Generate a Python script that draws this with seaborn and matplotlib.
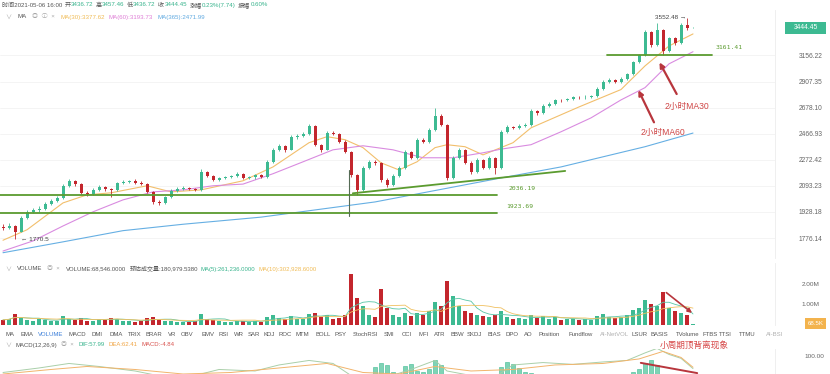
import numpy as np
import pandas as pd
import matplotlib
matplotlib.use("Agg")
import matplotlib.pyplot as plt
import matplotlib.transforms as mtransforms
from matplotlib.patches import Rectangle
import seaborn as sns

# ---------------- data ----------------
first_open = 1840
close = [1835, 1846, 1812, 1893, 1929, 1941, 1947, 1978, 1997, 2016,
         2094, 2127, 2107, 2048, 2042, 2067, 2087, 2074, 2067, 2113,
         2120, 2125, 2113, 2107, 2054, 1990, 1984, 2022, 2061, 2074,
         2080, 2074, 2067, 2188, 2160, 2133, 2146, 2153, 2158, 2174,
         2146, 2150, 2167, 2153, 2258, 2345, 2375, 2345, 2444, 2451,
         2466, 2529, 2383, 2345, 2474, 2466, 2406, 2330, 2167, 2067,
         2215, 2258, 2251, 2133, 2100, 2160, 2215, 2330, 2287, 2421,
         2406, 2497, 2610, 2537, 2146, 2287, 2345, 2251, 2188, 2272,
         2215, 2287, 2215, 2482, 2521, 2513, 2529, 2537, 2651, 2634,
         2693, 2710, 2744, 2740, 2752, 2770, 2765, 2770, 2778, 2843,
         2906, 2924, 2906, 2932, 2978, 3092, 3161, 3400, 3260, 3420,
         3200, 3330, 3280, 3470, 3436.72, 3444.45]
high = [1858, 1860, 1852, 1902, 1940, 1955, 1962, 1990, 2010, 2030,
        2105, 2140, 2135, 2115, 2060, 2078, 2098, 2095, 2082, 2122,
        2132, 2135, 2138, 2125, 2112, 2060, 2000, 2030, 2070, 2085,
        2090, 2088, 2082, 2205, 2195, 2168, 2155, 2162, 2168, 2190,
        2180, 2160, 2175, 2172, 2268, 2360, 2392, 2382, 2455, 2465,
        2480, 2545, 2535, 2392, 2485, 2490, 2472, 2415, 2338, 2175,
        2228, 2270, 2268, 2258, 2145, 2170, 2228, 2342, 2338, 2432,
        2435, 2510, 2676, 2625, 2545, 2298, 2360, 2352, 2262, 2285,
        2280, 2298, 2292, 2495, 2535, 2530, 2540, 2550, 2665, 2662,
        2705, 2722, 2755, 2756, 2764, 2782, 2780, 2784, 2790, 2855,
        2920, 2940, 2932, 2945, 2990, 3105, 3175, 3420, 3410, 3500,
        3430, 3345, 3340, 3495, 3552.48, 3457.46]
low = [1822, 1828, 1770.5, 1808, 1885, 1920, 1930, 1940, 1968, 1990,
       2010, 2085, 2095, 2040, 2030, 2035, 2060, 2062, 2022, 2060,
       2105, 2110, 2105, 2098, 2045, 1980, 1970, 1978, 2015, 2055,
       2068, 2066, 2058, 2062, 2150, 2125, 2125, 2138, 2145, 2150,
       2138, 2136, 2142, 2145, 2148, 2250, 2335, 2330, 2340, 2430,
       2440, 2460, 2370, 2330, 2340, 2455, 2395, 2318, 2150, 2036.19,
       2060, 2205, 2238, 2120, 2085, 2092, 2152, 2208, 2275, 2280,
       2395, 2398, 2490, 2525, 2135, 2140, 2278, 2240, 2175, 2180,
       2205, 2208, 2170, 2208, 2470, 2500, 2505, 2520, 2530, 2620,
       2628, 2685, 2702, 2728, 2732, 2745, 2752, 2755, 2760, 2772,
       2835, 2895, 2890, 2898, 2925, 2970, 3080, 3150, 3245, 3250,
       3160, 3190, 3265, 3270, 3425, 3436.72]
volume_m = [0.25, 0.3, 0.55, 0.35, 0.25, 0.2, 0.3, 0.25, 0.2, 0.2,
            0.45, 0.3, 0.25, 0.35, 0.2, 0.2, 0.3, 0.25, 0.35, 0.3,
            0.2, 0.2, 0.15, 0.2, 0.35, 0.4, 0.25, 0.2, 0.2, 0.15,
            0.15, 0.15, 0.2, 0.55, 0.3, 0.25, 0.2, 0.15, 0.15, 0.2,
            0.2, 0.15, 0.2, 0.15, 0.4, 0.5, 0.35, 0.3, 0.45, 0.3,
            0.3, 0.55, 0.6, 0.4, 0.5, 0.3, 0.35, 0.5, 2.45, 1.3,
            0.9, 0.5, 0.4, 1.75, 0.8, 0.5, 0.4, 0.6, 0.45, 0.6,
            0.5, 0.7, 1.1, 0.9, 2.15, 1.4, 0.9, 0.7, 0.6, 0.5,
            0.45, 0.4, 0.5, 0.7, 0.4, 0.3, 0.35, 0.3, 0.5, 0.35,
            0.45, 0.3, 0.4, 0.25, 0.3, 0.3, 0.25, 0.3, 0.25, 0.45,
            0.55, 0.4, 0.35, 0.4, 0.5, 0.75, 0.8, 1.2, 1.0, 0.9,
            1.6, 0.8, 0.7, 0.6, 0.5, 0.0685]

ma30_idx = [0, 4, 10, 14, 18, 24, 28, 33, 40, 45, 51, 54, 57, 60, 63, 66, 69, 72,
            74, 77, 80, 85, 88, 96, 103, 107, 111, 115]
ma30_val = [1764, 1823, 1984, 2035, 2048, 2094, 2054, 2067, 2127, 2222, 2398, 2444,
            2421, 2361, 2251, 2201, 2258, 2361, 2383, 2368, 2308, 2398, 2513, 2684,
            2835, 3054, 3252, 3377.62]
ma60_idx = [0, 5, 10, 15, 20, 25, 30, 35, 40, 45, 50, 55, 60, 65, 70, 75, 80, 83,
            88, 93, 98, 103, 107, 111, 115]
ma60_val = [1705, 1760, 1845, 1929, 2003, 2054, 2067, 2094, 2105, 2175, 2258, 2345,
            2375, 2345, 2287, 2287, 2323, 2350, 2383, 2482, 2593, 2744, 2852, 3074,
            3193.73]
ma365_idx = [0, 10, 20, 30, 43, 62, 83, 93, 107, 115]
ma365_val = [1696, 1755, 1818, 1855, 1897, 1990, 2146, 2222, 2368, 2471.99]

dif_idx = [0, 6, 11, 16, 22, 27, 32, 36, 42, 46, 51, 55, 58, 61, 64, 68, 72, 74,
           78, 82, 85, 90, 95, 100, 104, 107, 109, 111, 113, 115]
dif_val = [45, 60, 75, 65, 50, 30, 35, 55, 50, 70, 85, 75, 35, 15, 30, 55, 85, 50,
           35, 30, 70, 78, 72, 80, 85, 110, 125, 105, 92, 57.99]
dea_idx = [0, 8, 14, 22, 30, 38, 46, 54, 60, 66, 72, 78, 85, 92, 100, 106, 110, 113, 115]
dea_val = [40, 55, 65, 55, 40, 45, 60, 75, 45, 40, 65, 50, 55, 70, 75, 90, 115, 95, 62.41]
macd_hist = [10, 12, 8, 15, 20, 22, 25, 28, 30, 28,
             35, 38, 30, 22, 15, 12, 14, 12, 10, 14,
             12, 10, 8, 6, -5, -12, -15, -10, -5, -2,
             1, -2, -4, 15, 12, 8, 6, 5, 4, 6,
             3, 2, 4, 2, 18, 30, 32, 28, 35, 34,
             33, 38, 20, 12, 22, 18, 8, -10, -40, -55,
             -30, -10, 62, 78, 70, 45, 40, 66, 72, 50,
             45, 58, 85, 70, -20, -10, 5, -5, -15, 1,
             -5, 8, -2, 62, 80, 74, 60, 48, 42, 35,
             30, 28, 26, 22, 20, 18, 16, 15, 14, 22,
             28, 30, 26, 28, 32, 45, 58, 75, 88, 70,
             30, 40, 25, 20, 10, -4.84]

price_ticks = [1776.14, 1928.18, 2093.23, 2272.42, 2466.93, 2678.10, 2907.35, 3156.22]
vol_ticks = [1.0, 2.0]
vol_tick_labels = ["1.00M", "2.00M"]
levels = [2036.19, 1923.69]
level_top = 3161.41

tabs = ["MA", "EMA", "VOLUME", "MACD", "DMI", "DMA", "TRIX", "BRAR", "VR", "OBV", "EMV",
        "RSI", "WR", "SAR", "KDJ", "ROC", "MTM", "BOLL", "PSY", "StochRSI", "SMI", "CCI",
        "MFI", "ATR", "BBW", "SKDJ", "BIAS", "DPO", "AO", "Position", "Fundflow",
        "AI-NetVOL", "LSUR", "BASIS", "TVolume", "FTBS", "TTSI", "TTMU", "AI-BSI"]
tab_x = [5, 20, 38, 68, 92, 109, 128, 146, 168, 181, 201, 218, 234, 248, 263, 278, 295,
         315, 334, 353, 384, 402, 418, 434, 450, 467, 487, 505, 524, 538, 568, 600, 631,
         650, 676, 702, 719, 739, 766]

# ---------------- style ----------------
sns.set_theme(style="white")
plt.rcParams["font.family"] = ["Liberation Sans", "Noto Sans CJK SC", "DejaVu Sans"]
plt.rcParams["axes.unicode_minus"] = False

UP = "#3dba92"
DOWN = "#c3262d"
C30 = "#f2bf6c"
C60 = "#d98be0"
C365 = "#66afe3"
GREEN = "#5b9b2f"
RED = "#b8363d"
GREY = "#666666"

W, H = 830, 374
fig = plt.figure(figsize=(W / 100, H / 100), dpi=100)
fig.patch.set_facecolor("white")

AX_R = 775  # right edge of plot area in px
XL = (-0.5, (AX_R - 3) / 6)


def axes_px(top, bottom):
    return fig.add_axes([0, 1 - bottom / H, AX_R / W, (bottom - top) / H])


ax = axes_px(10, 258)
axv = axes_px(263, 325)
axm = axes_px(349, 374)

n = len(close)
idx = np.arange(n)
opens = np.array([first_open] + close[:-1], dtype=float)
closes = np.array(close, dtype=float)
up = closes >= opens
colors = np.where(up, UP, DOWN)

df = pd.DataFrame({"i": idx, "open": opens, "close": closes, "high": high,
                   "low": low, "vol": volume_m, "up": up})

# ---------------- price panel ----------------
ax.set_yscale("log")
ax.set_ylim(1668, 3642)
ax.set_xlim(*XL)
for t in price_ticks:
    ax.axhline(t, color="#f3f3f3", lw=0.6, zorder=0)
ax.vlines(df["i"], df["low"], df["high"], colors=colors, lw=0.6, zorder=3)
body_lo = np.minimum(opens, closes)
body_h = np.maximum(np.abs(closes - opens), body_lo * 0.0015)
ax.bar(df["i"], body_h, bottom=body_lo, width=0.5, color=colors, lw=0, zorder=4)

ma_df = pd.concat([
    pd.DataFrame({"i": ma30_idx, "v": ma30_val, "ma": "MA30"}),
    pd.DataFrame({"i": ma60_idx, "v": ma60_val, "ma": "MA60"}),
    pd.DataFrame({"i": ma365_idx, "v": ma365_val, "ma": "MA365"}),
])
sns.lineplot(data=ma_df, x="i", y="v", hue="ma", palette={"MA30": C30, "MA60": C60, "MA365": C365},
             lw=0.8, ax=ax, legend=False, zorder=2, sort=True)

# support / resistance lines
for lv in levels:
    ax.plot([-0.5, 82.3], [lv, lv], color=GREEN, lw=1.3, zorder=5)
ax.plot([100.7, 118.2], [level_top, level_top], color=GREEN, lw=1.3, zorder=5)
ax.plot([58.3, 93.7], [2045, 2194], color=GREEN, lw=1.3, zorder=5)
ax.plot([57.7, 57.7], [1905, 2201], color="#556b55", lw=0.8, zorder=5)
ax.text(84.2, 2036.19 * 1.02, "2036.19", color=GREEN, fontsize=4.6, family="DejaVu Sans Mono", va="center")
ax.text(83.8, 1923.69 * 1.02, "1923.69", color=GREEN, fontsize=4.6, family="DejaVu Sans Mono", va="center")
ax.text(118.7, level_top * 1.025, "3161.41", color=GREEN, fontsize=4.6, family="DejaVu Sans Mono", va="center")

ax.text(3.0, 1770.5, "\u2190 1770.5", color="#444444", fontsize=4.6, va="center", ha="left")
ax.text(113.8, 3552.48, "3552.48 \u2192", color="#444444", fontsize=4.6, va="center", ha="right")

# red arrows and notes
arrow_kw = dict(arrowstyle="-|>", color=RED, lw=1.6, mutation_scale=7)
ax.annotate("", xy=(109.2, 3112), xytext=(112.5, 2774), arrowprops=arrow_kw, zorder=6)
ax.annotate("", xy=(105.7, 2852), xytext=(108.7, 2537), arrowprops=arrow_kw, zorder=6)
ax.text(110.3, 2692, "2小时MA30", color="#cf4646", fontsize=6.2, va="center", ha="left")
ax.text(106.2, 2474, "2小时MA60", color="#cf4646", fontsize=6.2, va="center", ha="left")

ax.yaxis.tick_right()
ax.set_yticks(price_ticks)
ax.set_yticklabels([f"{t:.2f}" for t in price_ticks])
ax.yaxis.set_minor_locator(matplotlib.ticker.NullLocator())
ax.tick_params(axis="y", length=0, pad=17, labelsize=4.8, labelcolor=GREY)
ax.set_xticks([])
ax.set_xlabel("")
ax.set_ylabel("")
for s in ["top", "left", "bottom"]:
    ax.spines[s].set_visible(False)
ax.spines["right"].set_color("#ececec")
ax.spines["right"].set_linewidth(0.6)

# ---------------- volume panel ----------------
axv.set_xlim(*XL)
axv.set_ylim(0, 3.0)
axv.bar(df["i"], df["vol"], width=0.55, color=colors, lw=0)
vol_s = pd.Series(volume_m)
axv.plot(idx, vol_s.rolling(5, min_periods=1).mean(), color="#58c6a6", lw=0.6)
axv.plot(idx, vol_s.rolling(10, min_periods=1).mean(), color="#f0c060", lw=0.6)
axv.annotate("", xy=(115.2, 0.5), xytext=(110.2, 1.65),
             arrowprops=dict(arrowstyle="-|>", color=RED, lw=1.2, mutation_scale=6))
axv.yaxis.tick_right()
axv.set_yticks(vol_ticks)
axv.set_yticklabels(vol_tick_labels)
axv.tick_params(axis="y", length=0, pad=19, labelsize=4.6, labelcolor=GREY)
axv.set_xticks([])
for s in ["top", "left", "bottom"]:
    axv.spines[s].set_visible(False)
axv.spines["right"].set_color("#ececec")
axv.spines["right"].set_linewidth(0.6)

# ---------------- MACD panel ----------------
axm.set_xlim(*XL)
axm.set_ylim(40, 123)
hist = np.array(macd_hist)
axm.bar(idx, hist, width=0.55, color=np.where(hist >= 0, "#7fd3b5", "#e58a8a"),
        edgecolor=np.where(hist >= 0, UP, DOWN), lw=0.4)
axm.plot(dif_idx, dif_val, color="#a9cfa9", lw=0.7)
axm.plot(dea_idx, dea_val, color="#f2b46b", lw=0.7)
axm.plot([106.3, 115.7], [77, 43], color=RED, lw=1.4)
axm.yaxis.tick_right()
axm.set_yticks([100])
axm.set_yticklabels(["100.00"])
axm.tick_params(axis="y", length=0, pad=21, labelsize=4.6, labelcolor=GREY)
axm.set_xticks([])
for s in ["top", "left", "bottom"]:
    axm.spines[s].set_visible(False)
axm.spines["right"].set_color("#ececec")
axm.spines["right"].set_linewidth(0.6)

# ---------------- last-value boxes on the right ----------------
def value_box(axis, value, text, x0, x1, h, fc, size):
    ypx = axis.transData.transform((0, value))[1]
    fig.patches.append(Rectangle((x0 / W, (ypx - h / 2) / H), (x1 - x0) / W, h / H,
                                 transform=fig.transFigure, fc=fc, ec="none", zorder=5))
    fig.text((x0 + x1) / 2 / W, ypx / H, text, color="white", fontsize=size,
             ha="center", va="center", zorder=6)


value_box(ax, close[-1], f"{close[-1]:.2f}", 785, 826, 12, UP, 4.8)
value_box(axv, 0.09, "68.5K", 805, 826, 11, "#f3b34d", 4.4)

# ---------------- header texts ----------------
renderer = fig.canvas.get_renderer()


def row(y_px, x_px, segs, size):
    x = x_px
    for txt, col, gap in segs:
        x += gap
        t = fig.text(x / W, 1 - y_px / H, txt, color=col, fontsize=size, va="center", ha="left")
        x = t.get_window_extent(renderer=renderer).x1


D = "#555555"
L = "#a8a8a8"
T = "#37b38c"
row(5, 2, [("时间2021-05-06 16:00", D, 0), ("开", D, 2.5), ("3436.72", T, 0),
           ("高", D, 2.5), ("3457.46", T, 0), ("低", D, 2.5), ("3436.72", T, 0),
           ("收", D, 2.5), ("3444.45", T, 0), ("涨幅", D, 2.5), ("0.23%(7.74)", T, 0),
           ("振幅", D, 2.5), ("0.60%", T, 0)], 4.4)
row(17, 5, [("\u2228", L, 0), ("MA", D, 6), ("\u25ce  \u24d8  \u00d7", L, 6),
            ("MA(30):3377.62", "#f0bb55", 5), ("MA(60):3193.73", "#df7fd6", 4),
            ("MA(365):2471.99", "#5fa9e0", 4)], 4.4)
row(269, 5, [("\u2228", L, 0), ("VOLUME", D, 6), ("\u25ce  \u00d7", L, 5),
             ("VOLUME:68,546.0000", D, 6), ("预估成交量:180,979.5380", D, 3),
             ("MA(5):261,236.0000", T, 3), ("MA(10):302,928.6000", "#f0bb55", 3)], 4.3)
for name, x in zip(tabs, tab_x):
    col = "#3b7fd9" if name == "VOLUME" else ("#b0b0b0" if name.startswith("AI") else "#555555")
    fig.text(x / W, 1 - 334 / H, name, color=col, fontsize=4.3, va="center", ha="left")
row(345, 5, [("\u2228", L, 0), ("MACD(12,26,9)", D, 4), ("\u25ce  \u00d7", L, 4),
             ("DIF:57.99", T, 5), ("DEA:62.41", "#f0a545", 4), ("MACD:-4.84", "#d9534f", 4)], 4.3)
fig.text(660 / W, 1 - 345 / H, "小周期顶背离现象", color="#d64545", fontsize=6.2, va="center", ha="left")

fig.savefig("out.png", dpi=100, facecolor="white")
